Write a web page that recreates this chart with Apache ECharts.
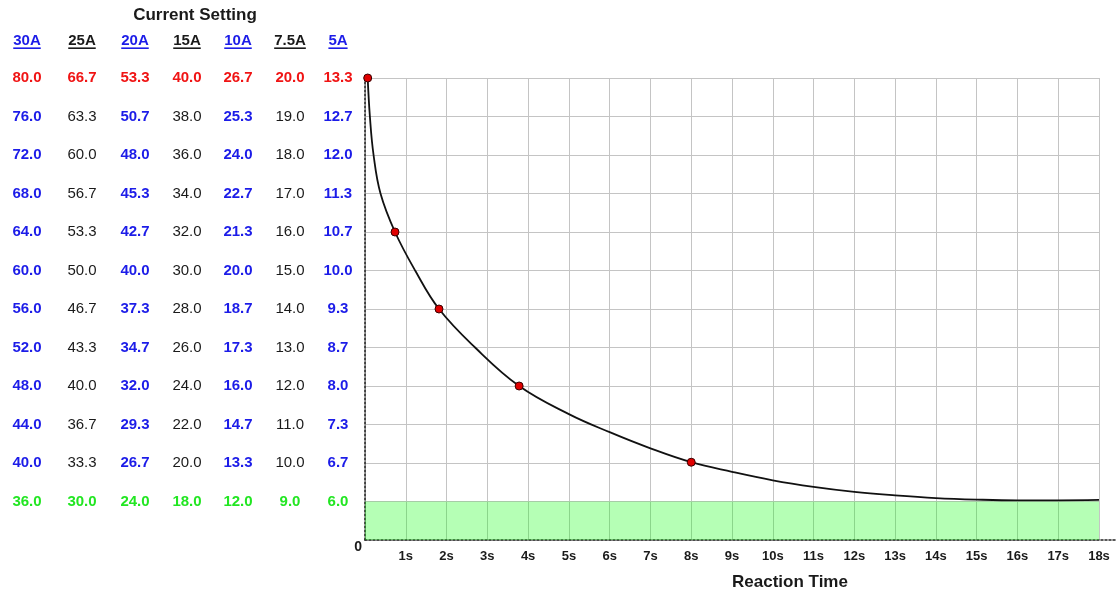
<!DOCTYPE html>
<html>
<head>
<meta charset="utf-8">
<script src="https://cdn.jsdelivr.net/npm/echarts@6/dist/echarts.min.js"></script>
<style>html,body{margin:0;padding:0;background:#fff}#chart{width:1120px;height:590px}</style>
</head>
<body>
<div id="chart"></div>
<script>
// ---- data ----
// Current-setting columns: trip level values for level index 1 (bottom row) .. 12 (top row)
const currentHeaders = ['30A', '25A', '20A', '15A', '10A', '7.5A', '5A'];
const col30A  = [36, 40, 44, 48, 52, 56, 60, 64, 68, 72, 76, 80];
const col25A  = [30, 33.3, 36.7, 40, 43.3, 46.7, 50, 53.3, 56.7, 60, 63.3, 66.7];
const col20A  = [24, 26.7, 29.3, 32, 34.7, 37.3, 40, 42.7, 45.3, 48, 50.7, 53.3];
const col15A  = [18, 20, 22, 24, 26, 28, 30, 32, 34, 36, 38, 40];
const col10A  = [12, 13.3, 14.7, 16, 17.3, 18.7, 20, 21.3, 22.7, 24, 25.3, 26.7];
const col7_5A = [9, 10, 11, 12, 13, 14, 15, 16, 17, 18, 19, 20];
const col5A   = [6, 6.7, 7.3, 8, 8.7, 9.3, 10, 10.7, 11.3, 12, 12.7, 13.3];
const columns = [col30A, col25A, col20A, col15A, col10A, col7_5A, col5A];

// reaction-time curve (seconds vs level index)
const curveTime  = [0.066, 0.12, 0.21, 0.38, 0.736, 1.23, 1.815, 2.70, 3.78, 5.0, 6.0, 7.0, 8.0, 9, 10, 11, 12, 13, 14, 15, 16, 17, 18];
const curveLevel = [12, 11, 10, 9, 8, 7, 6, 5, 4, 3.27, 2.8, 2.38, 2.02, 1.77, 1.55, 1.38, 1.25, 1.16, 1.09, 1.05, 1.03, 1.03, 1.04];
// marked points
const markTime  = [0.066, 0.736, 1.815, 3.78, 8.0];
const markLevel = [12, 8, 6, 4, 2.02];
// safe zone (level index)
const safeZoneTop = 1;
const timeMax = 18;
const levelMax = 12;

// ---- style / layout ----
const FONT = 'Liberation Sans, Arial, Helvetica, sans-serif';
const RED = '#f01414', BLUE = '#1c1ce8', BLACK = '#1a1a1a', GREEN = '#22e622';
const colColors = [BLUE, BLACK, BLUE, BLACK, BLUE, BLACK, BLUE];
const colCenters = [27, 82, 135, 187, 238, 290, 338];
const axisX = 365;

function textWidth(str, font) {
  const c = document.createElement('canvas').getContext('2d');
  c.font = font;
  return c.measureText(str).width;
}

const chart = echarts.init(document.getElementById('chart'), null, {renderer: 'canvas'});

const colAxes = columns.map((col, ci) => {
  const color = colColors[ci];
  const isBlue = color === BLUE;
  const hw = textWidth(currentHeaders[ci], 'bold 15px ' + FONT);
  return {
    type: 'value', min: 0, max: levelMax, interval: 1,
    position: 'left', offset: axisX - colCenters[ci],
    axisLine: {show: false}, axisTick: {show: false}, splitLine: {show: false},
    name: '{t|' + currentHeaders[ci] + '}\n{u|}',
    nameLocation: 'end', nameGap: 29,
    nameTextStyle: {
      align: 'center', verticalAlign: 'bottom',
      rich: {
        t: {fontFamily: FONT, fontSize: 15, fontWeight: 'bold', color: color, lineHeight: 13, align: 'center'},
        u: {width: hw, height: 1.6, lineHeight: 1.6, backgroundColor: color, align: 'center'}
      }
    },
    axisLabel: {
      margin: 0, align: 'center',
      formatter: function (v) {
        const i = Math.round(v);
        if (i < 1 || i > col.length) return '';
        const s = col[i - 1].toFixed(1);
        if (i === col.length) return '{r|' + s + '}';
        if (i === 1) return '{g|' + s + '}';
        return (isBlue ? '{b|' : '{k|') + s + '}';
      },
      rich: {
        r: {fontFamily: FONT, fontSize: 15, fontWeight: 'bold', color: RED},
        g: {fontFamily: FONT, fontSize: 15, fontWeight: 'bold', color: GREEN},
        b: {fontFamily: FONT, fontSize: 15, fontWeight: 'bold', color: BLUE},
        k: {fontFamily: FONT, fontSize: 15, fontWeight: 'normal', color: BLACK}
      }
    }
  };
});

const option = {
  animation: false,
  backgroundColor: '#fff',
  title: {
    text: 'Current Setting', left: 195, top: 7, padding: 0, textAlign: 'center',
    textStyle: {fontFamily: FONT, fontSize: 17, fontWeight: 'bold', color: BLACK}
  },
  grid: [
    {left: axisX, right: 21, top: 78, bottom: 50, containLabel: false, outerBoundsMode: 'none'},
    {left: axisX, right: 3, top: 78, bottom: 50, containLabel: false, outerBoundsMode: 'none'}
  ],
  xAxis: [
    {
      type: 'value', gridIndex: 0, min: 0, max: timeMax, interval: 1,
      axisLine: {show: false}, axisTick: {show: false},
      splitLine: {show: true, lineStyle: {color: '#c4c4c4', width: 1}},
      axisLabel: {
        margin: 10, fontFamily: FONT, fontSize: 13, fontWeight: 'bold', color: BLACK,
        formatter: v => v === 0 ? '' : v + 's'
      },
      name: 'Reaction Time', nameLocation: 'middle', nameGap: 34,
      nameTextStyle: {fontFamily: FONT, fontSize: 17, fontWeight: 'bold', color: BLACK, padding: [0, 0, 0, 116]}
    },
    {
      type: 'value', gridIndex: 1, min: 0, max: 1,
      axisLine: {show: true, onZero: false, lineStyle: {color: '#222', width: 1.6, type: [2, 2]}},
      axisTick: {show: false}, axisLabel: {show: false}, splitLine: {show: false}
    }
  ],
  yAxis: [
    {
      type: 'value', gridIndex: 0, min: 0, max: levelMax, interval: 1,
      axisLine: {show: true, lineStyle: {color: '#222', width: 1.6, type: [2, 2]}},
      axisTick: {show: false},
      splitLine: {show: true, lineStyle: {color: '#c4c4c4', width: 1}},
      axisLabel: {
        margin: 3, verticalAlign: 'top', fontFamily: FONT, fontSize: 14, fontWeight: 'bold', color: BLACK,
        formatter: v => v === 0 ? '0' : ''
      }
    },
    ...colAxes,
    {type: 'value', gridIndex: 1, show: false, min: 0, max: 1}
  ],
  series: [
    {
      type: 'line', name: 'Reaction curve', xAxisIndex: 0, yAxisIndex: 0,
      data: curveTime.map((t, i) => [t, curveLevel[i]]),
      smooth: 0.4, showSymbol: false,
      lineStyle: {color: '#111', width: 1.8},
      markArea: {
        silent: true,
        itemStyle: {color: 'rgba(0,255,0,0.29)'},
        data: [[{coord: [0, 0]}, {coord: [timeMax, safeZoneTop]}]]
      },
      z: 3
    },
    {
      type: 'scatter', name: 'Settings', xAxisIndex: 0, yAxisIndex: 0,
      data: markTime.map((t, i) => [t, markLevel[i]]),
      symbolSize: 8, clip: false,
      itemStyle: {color: '#e00000', borderColor: '#3a0000', borderWidth: 1, opacity: 1},
      z: 4
    }
  ]
};
chart.setOption(option);
</script>
</body>
</html>
